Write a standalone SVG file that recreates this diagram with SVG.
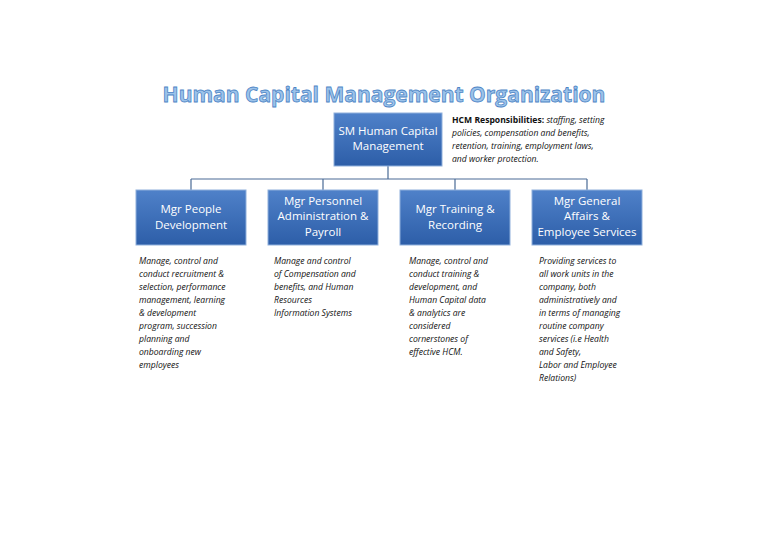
<svg xmlns="http://www.w3.org/2000/svg" width="768" height="543" viewBox="0 0 768 543">
<defs>
<linearGradient id="g" x1="0" y1="0" x2="0" y2="1"><stop offset="0" stop-color="#4f81c9"/><stop offset="1" stop-color="#2d5ea8"/></linearGradient>
<style>
.box{fill:url(#g);stroke:#8fb0dc;stroke-width:1}
.bt{font-family:"Open Sans","Liberation Sans",sans-serif;font-size:11.5px;fill:#fff;text-anchor:middle}
.d{font-family:"Open Sans","Liberation Sans",sans-serif;font-size:8.6px;font-style:italic;fill:#111}
.ln{stroke:#4a6b96;stroke-width:1.2;fill:none}
</style>
</defs>
<rect width="768" height="543" fill="#fff"/>
<text x="384" y="102" text-anchor="middle" font-family="Open Sans,Liberation Sans,sans-serif" font-weight="bold" font-size="21" fill="#9cc3ea" stroke="#4f86c6" stroke-width="0.8">Human Capital Management Organization</text>
<g id="connectors">
<path class="ln" d="M388 166V179M191 179H587M191 179V190M323 179V190M455 179V190M587 179V190"/>
</g>
<g id="n0"><rect class="box" x="334" y="113" width="108" height="53"/>
<text class="bt" x="388" y="135">SM Human Capital</text><text class="bt" x="388" y="150">Management</text></g>
<g id="note"><text class="d" font-style="normal" x="452" y="123"><tspan font-weight="bold" font-style="normal">HCM Responsibilities:</tspan><tspan font-style="italic"> staffing, setting</tspan></text>
<text class="d" x="452" y="136">policies, compensation and benefits,</text>
<text class="d" x="452" y="149">retention, training, employment laws,</text>
<text class="d" x="452" y="162">and worker protection.</text></g>
<g id="n1"><rect class="box" x="136" y="190" width="110" height="55"/>
<text class="bt" x="191" y="213">Mgr People</text><text class="bt" x="191" y="229">Development</text></g>
<g id="n2"><rect class="box" x="268" y="190" width="110" height="55"/>
<text class="bt" x="323" y="205">Mgr Personnel</text><text class="bt" x="323" y="220">Administration &amp;</text><text class="bt" x="323" y="236">Payroll</text></g>
<g id="n3"><rect class="box" x="400" y="190" width="110" height="55"/>
<text class="bt" x="455" y="213">Mgr Training &amp;</text><text class="bt" x="455" y="229">Recording</text></g>
<g id="n4"><rect class="box" x="532" y="190" width="110" height="55"/>
<text class="bt" x="587" y="205">Mgr General</text><text class="bt" x="587" y="220">Affairs &amp;</text><text class="bt" x="587" y="236">Employee Services</text></g>
<g id="desc1" class="d">
<text x="139" y="264">Manage, control and</text><text x="139" y="277">conduct recruitment &amp;</text><text x="139" y="290">selection, performance</text><text x="139" y="303">management, learning</text><text x="139" y="316">&amp; development</text><text x="139" y="329">program, succession</text><text x="139" y="342">planning and</text><text x="139" y="355">onboarding new</text><text x="139" y="368">employees</text></g>
<g id="desc2" class="d">
<text x="274" y="264">Manage and control</text><text x="274" y="277">of Compensation and</text><text x="274" y="290">benefits, and Human</text><text x="274" y="303">Resources</text><text x="274" y="316">Information Systems</text></g>
<g id="desc3" class="d">
<text x="409" y="264">Manage, control and</text><text x="409" y="277">conduct training &amp;</text><text x="409" y="290">development, and</text><text x="409" y="303">Human Capital data</text><text x="409" y="316">&amp; analytics are</text><text x="409" y="329">considered</text><text x="409" y="342">cornerstones of</text><text x="409" y="355">effective HCM.</text></g>
<g id="desc4" class="d">
<text x="539" y="264">Providing services to</text><text x="539" y="277">all work units in the</text><text x="539" y="290">company, both</text><text x="539" y="303">administratively and</text><text x="539" y="316">in terms of managing</text><text x="539" y="329">routine company</text><text x="539" y="342">services (i.e Health</text><text x="539" y="355">and Safety,</text><text x="539" y="368">Labor and Employee</text><text x="539" y="381">Relations)</text></g>
</svg>
